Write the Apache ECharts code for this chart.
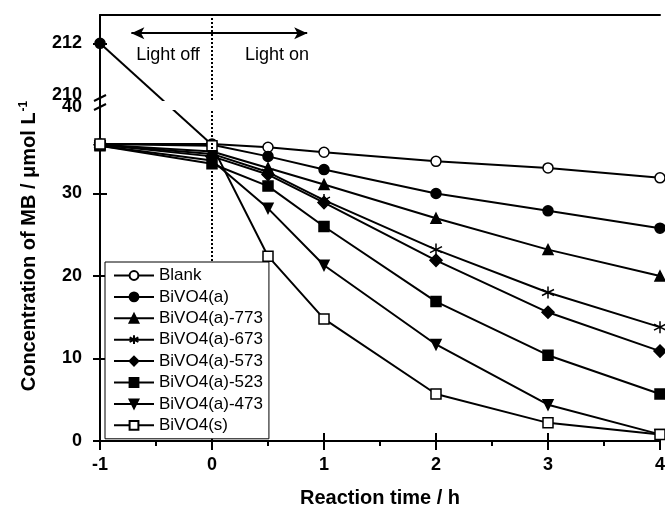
<!DOCTYPE html>
<html>
<head>
<meta charset="utf-8">
<script src="https://cdn.jsdelivr.net/npm/echarts@6/dist/echarts.min.js"></script>
<style>
  html, body { margin: 0; padding: 0; background: #fff; }
  #chart { width: 665px; height: 505px; }
</style>
</head>
<body>
<div id="chart"></div>
<script>
// reaction time (h)
var times = [-1, 0, 0.5, 1, 2, 3, 4];
// concentration of MB (umol/L)
var blank   = [36.0, 36.0, 35.6, 35.0, 33.9, 33.1, 31.9];
var bivo4a  = [null, 35.9, 34.5, 32.9, 30.0, 27.9, 25.8];
var bivo4aDark = 212;   // BiVO4(a) at -1 h, upper panel
var a773    = [35.9, 35.1, 33.1, 31.1, 27.0, 23.2, 20.0];
var a673    = [35.9, 34.8, 32.6, 29.2, 23.2, 18.0, 13.8];
var a573    = [35.9, 34.5, 32.3, 28.9, 21.9, 15.6, 10.9];
var a523    = [35.8, 33.6, 30.9, 26.0, 16.9, 10.4, 5.7];
var a473    = [35.8, 34.0, 28.2, 21.3, 11.7, 4.4, 0.8];
var bivo4s  = [36.0, 35.8, 22.4, 14.8, 5.7, 2.2, 0.8];

var names = ['Blank', 'BiVO4(a)', 'BiVO4(a)-773', 'BiVO4(a)-673', 'BiVO4(a)-573', 'BiVO4(a)-523', 'BiVO4(a)-473', 'BiVO4(s)'];
var xTicks = [-1, 0, 1, 2, 3, 4];
var upperLabels = [210, 212];
var lowerLabels = [0, 10, 20, 30, 40];

// panel geometry (upper = broken part 210-213, lower = 0-40)
var UP = { top: 15, h: 85, min: 210, max: 213 };
var LOW = { top: 111, h: 330, min: 0, max: 40 };
function toPx(p, v) { return p.top + (p.max - v) / (p.max - p.min) * p.h; }
function toVal(p, px) { return p.max - (px - p.top) / p.h * (p.max - p.min); }

var font = 'Liberation Sans, Arial, sans-serif';
var black = '#000';

function pairs(arr) {
  return times.map(function (t, i) { return [t, arr[i]]; });
}

var sym = {
  'Blank': { symbol: 'circle', fill: '#fff' },
  'BiVO4(a)': { symbol: 'circle', fill: black },
  'BiVO4(a)-773': { symbol: 'triangle', fill: black },
  'BiVO4(a)-673': { symbol: 'path://M5,0L5,10M0.67,2.5L9.33,7.5M0.67,7.5L9.33,2.5', fill: black },
  'BiVO4(a)-573': { symbol: 'diamond', fill: black },
  'BiVO4(a)-523': { symbol: 'rect', fill: black },
  'BiVO4(a)-473': { symbol: 'path://M0,0L10,0L5,9Z', fill: black },
  'BiVO4(s)': { symbol: 'rect', fill: '#fff' }
};
var values = [blank, bivo4a, a773, a673, a573, a523, a473, bivo4s];

var series = names.map(function (n, i) {
  var s = {
    name: n,
    type: 'line',
    xAxisIndex: 1,
    yAxisIndex: 1,
    data: pairs(values[i]),
    symbol: sym[n].symbol,
    symbolSize: (n === 'BiVO4(a)-573' || n === 'BiVO4(a)-673') ? 12 : 10,
    showAllSymbol: true,
    lineStyle: { color: black, width: 2 },
    itemStyle: { color: sym[n].fill, borderColor: black, borderWidth: 1.5 }
  };
  if (i === 0) {
    s.markLine = {
      silent: true, symbol: 'none', label: { show: false },
      lineStyle: { color: black, type: 'dotted', width: 2 },
      data: [{ xAxis: 0 }]
    };
  }
  return s;
});

// connection across the axis break for BiVO4(a)
var ghostUp = toVal(UP, toPx(LOW, bivo4a[1]));
var ghostLow = toVal(LOW, toPx(UP, bivo4aDark));
series.push({
  name: 'BiVO4(a) upper',
  type: 'line',
  xAxisIndex: 0, yAxisIndex: 0,
  data: [[-1, bivo4aDark], { value: [0, ghostUp], symbol: 'none' }],
  symbol: 'circle', symbolSize: 10, showAllSymbol: true,
  lineStyle: { color: black, width: 2 },
  itemStyle: { color: black, borderColor: black, borderWidth: 1.5 },
  markLine: {
    silent: true, symbol: 'none', label: { show: false },
    lineStyle: { color: black, type: 'dotted', width: 2 },
    data: [{ xAxis: 0 }]
  }
});
series.push({
  name: 'BiVO4(a) link',
  type: 'line',
  xAxisIndex: 1, yAxisIndex: 1,
  data: [[-1, ghostLow], [0, bivo4a[1]]],
  symbol: 'none',
  lineStyle: { color: black, width: 2 }
});
// light off / light on arrows
var arrowY = 212.36;
series.push({
  name: 'arrows',
  type: 'line',
  xAxisIndex: 0, yAxisIndex: 0,
  data: [],
  markLine: {
    silent: true, symbol: ['none', 'arrow'], symbolSize: [9, 13],
    label: { show: false },
    lineStyle: { color: black, type: 'solid', width: 2 },
    data: [
      [{ coord: [0, arrowY] }, { coord: [-0.72, arrowY] }],
      [{ coord: [0, arrowY] }, { coord: [0.85, arrowY] }]
    ]
  }
});

var axisLine = { show: true, onZero: false, lineStyle: { color: black, width: 2 } };
var noLine = { show: false, onZero: false };
var labelStyle = { color: black, fontFamily: font, fontWeight: 'bold', fontSize: 18 };
var tickStyle = { color: black, width: 2 };

// nudge the labels that sit on both sides of the break
function breakLabel(v) {
  if (v === 210) return '{hi|210}';
  if (v === 40) return '{mid|40}';
  return String(v);
}
var breakRich = {
  hi: { fontFamily: font, fontWeight: 'bold', fontSize: 18, color: black, padding: [0, 0, 10, 0] },
  mid: { fontFamily: font, fontWeight: 'bold', fontSize: 18, color: black, padding: [0, 0, 7, 0] }
};

var option = {
  animation: false,
  grid: [
    { left: 100, top: UP.top, width: 560, height: UP.h, outerBoundsMode: 'none' },
    { left: 100, top: LOW.top, width: 560, height: LOW.h, outerBoundsMode: 'none' }
  ],
  xAxis: [
    { gridIndex: 0, type: 'value', min: -1, max: 4, position: 'top',
      axisLine: axisLine, axisTick: { show: false }, axisLabel: { show: false }, splitLine: { show: false } },
    { gridIndex: 1, type: 'value', min: -1, max: 4, interval: 1, position: 'bottom',
      axisLine: axisLine,
      axisTick: { show: true, length: 9, lineStyle: tickStyle },
      minorTick: { show: true, splitNumber: 2, length: 5, lineStyle: tickStyle },
      axisLabel: Object.assign({ margin: 15, customValues: xTicks }, labelStyle),
      splitLine: { show: false },
      name: 'Reaction time / h', nameLocation: 'middle', nameGap: 47,
      nameTextStyle: { color: black, fontFamily: font, fontWeight: 'bold', fontSize: 20 } },
    { gridIndex: 1, type: 'value', min: -1, max: 4, interval: 1, position: 'bottom',
      axisLine: noLine,
      axisTick: { show: true, inside: true, length: 8, lineStyle: tickStyle },
      axisLabel: { show: false }, splitLine: { show: false } }
  ],
  yAxis: [
    { gridIndex: 0, type: 'value', min: UP.min, max: UP.max, position: 'left',
      axisLine: axisLine,
      axisTick: { show: true, length: 7, customValues: [212], lineStyle: tickStyle },
      axisLabel: Object.assign({ margin: 18, customValues: upperLabels, formatter: breakLabel, rich: breakRich }, labelStyle),
      splitLine: { show: false } },
    { gridIndex: 1, type: 'value', min: LOW.min, max: LOW.max, interval: 10, position: 'left',
      axisLine: axisLine,
      axisTick: { show: true, length: 7, customValues: [0, 10, 20, 30], lineStyle: tickStyle },
      axisLabel: Object.assign({ margin: 18, customValues: lowerLabels, formatter: breakLabel, rich: breakRich }, labelStyle),
      splitLine: { show: false } },
    { gridIndex: 0, type: 'value', min: UP.min, max: UP.max, position: 'left',
      axisLine: noLine,
      axisTick: { show: true, inside: true, length: 7, customValues: [212], lineStyle: tickStyle },
      axisLabel: { show: false }, splitLine: { show: false } },
    { gridIndex: 1, type: 'value', min: LOW.min, max: LOW.max, interval: 10, position: 'left',
      axisLine: noLine,
      axisTick: { show: true, inside: true, length: 7, customValues: [0, 10, 20, 30], lineStyle: tickStyle },
      axisLabel: { show: false }, splitLine: { show: false } }
  ],
  legend: {
    data: names,
    orient: 'vertical',
    left: 105, top: 262,
    padding: [5, 6, 5, 8],
    backgroundColor: '#fff',
    borderColor: black, borderWidth: 1,
    itemWidth: 40, itemHeight: 11, itemGap: 4.4,
    z: 20,
    textStyle: { color: black, fontFamily: font, fontSize: 17, lineHeight: 17 }
  },
  graphic: [
    // axis break marks
    { type: 'line', shape: { x1: 100, y1: 100, x2: 100, y2: 111 }, style: { stroke: black, lineWidth: 2 } },
    { type: 'line', shape: { x1: 94, y1: 101, x2: 106, y2: 95 }, style: { stroke: black, lineWidth: 2 } },
    { type: 'line', shape: { x1: 94, y1: 110, x2: 106, y2: 104 }, style: { stroke: black, lineWidth: 2 } },
    { type: 'text', x: 168, y: 55,
      style: { text: 'Light off', fill: black, font: '18px ' + font, align: 'center', verticalAlign: 'middle' } },
    { type: 'text', x: 277, y: 55,
      style: { text: 'Light on', fill: black, font: '18px ' + font, align: 'center', verticalAlign: 'middle' } },
    { type: 'text', x: 29, y: 246, rotation: Math.PI / 2,
      style: {
        text: 'Concentration of MB / \u03bcmol L{sup|-1}',
        fill: black, font: 'bold 20px ' + font, align: 'center', verticalAlign: 'middle',
        rich: { sup: { fontSize: 12, fontWeight: 'bold', fontFamily: font, verticalAlign: 'top', padding: [0, 0, 10, 1] } }
      } }
  ],
  series: series
};

var chart = echarts.init(document.getElementById('chart'));
chart.setOption(option);
</script>
</body>
</html>
